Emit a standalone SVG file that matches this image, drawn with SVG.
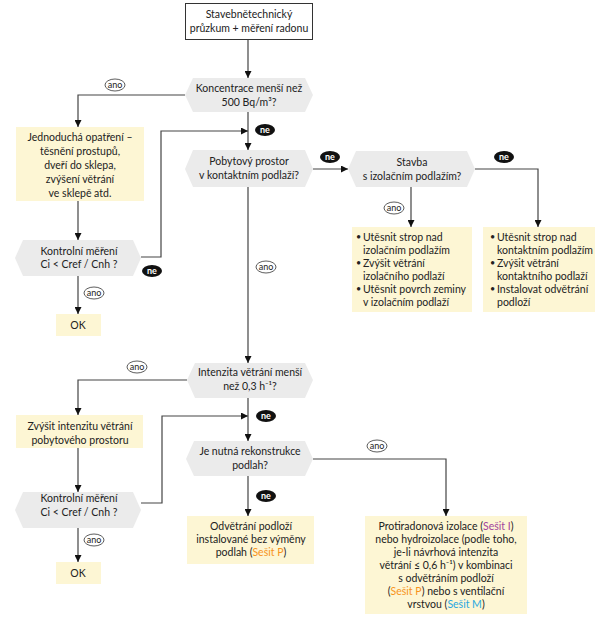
<svg xmlns="http://www.w3.org/2000/svg" width="600" height="625" viewBox="0 0 600 625">
<defs>
<marker id="ah" viewBox="0 0 10 10" refX="10" refY="5" markerWidth="7" markerHeight="7" markerUnits="userSpaceOnUse" orient="auto">
<path d="M0,0 L10,5 L0,10 z" fill="#111"/>
</marker>
<style>
text{font-family:Lato,"Liberation Sans",sans-serif;font-size:10.5px;fill:#222;}
.c{text-anchor:middle;}
.box{fill:#ffffff;stroke:#333;stroke-width:1;}
.yel{fill:#fdf6d4;}
.hex{fill:#ebebeb;}
.ln{fill:none;stroke:#444;stroke-width:1.2;marker-end:url(#ah);}
.ano{fill:#fff;stroke:#333;stroke-width:0.8;}
.anot{font-size:9px;text-anchor:middle;}
.ne{fill:#111;}
.net{font-size:9px;text-anchor:middle;fill:#fff;font-weight:bold;}
.bu{font-size:9px;}
.or{fill:#f7941d;}
.pu{fill:#a3449c;}
.bl{fill:#29a8e0;}
</style>
</defs>

<g id="connectors">
<path class="ln" d="M248,40 V78"/>
<path class="ln" d="M185,95 H78 V127"/>
<path class="ln" d="M248,112 V150"/>
<path class="ln" d="M141,257 H161 V131 H248"/>
<path class="ln" d="M78,201 V240"/>
<path class="ln" d="M78,276 V314"/>
<path class="ln" d="M313,169 H348"/>
<path class="ln" d="M475,169 H538 V227"/>
<path class="ln" d="M411,187 V227"/>
<path class="ln" d="M248,187 V363"/>
<path class="ln" d="M187,380 H78 V415"/>
<path class="ln" d="M78,448 V492"/>
<path class="ln" d="M141,503 H162 V416 H248"/>
<path class="ln" d="M248,398 V441"/>
<path class="ln" d="M248,476 V516"/>
<path class="ln" d="M313,459 H446 V516"/>
<path class="ln" d="M78,528 V562"/>
</g>

<g id="labels">
<ellipse class="ano" cx="115" cy="85" rx="10" ry="6"/><text class="anot" x="115" y="88">ano</text>
<ellipse class="ano" cx="394" cy="208" rx="10" ry="6"/><text class="anot" x="394" y="211">ano</text>
<ellipse class="ano" cx="94" cy="293" rx="10" ry="6"/><text class="anot" x="94" y="296">ano</text>
<ellipse class="ano" cx="266" cy="267" rx="10" ry="6"/><text class="anot" x="266" y="270">ano</text>
<ellipse class="ano" cx="137" cy="367" rx="10" ry="6"/><text class="anot" x="137" y="370">ano</text>
<ellipse class="ano" cx="377" cy="446" rx="10" ry="6"/><text class="anot" x="377" y="449">ano</text>
<ellipse class="ano" cx="94" cy="540" rx="10" ry="6"/><text class="anot" x="94" y="543">ano</text>
<ellipse class="ne" cx="265" cy="130" rx="10" ry="6"/><text class="net" x="265" y="133">ne</text>
<ellipse class="ne" cx="330" cy="157" rx="10" ry="6"/><text class="net" x="330" y="160">ne</text>
<ellipse class="ne" cx="504" cy="157" rx="10" ry="6"/><text class="net" x="504" y="160">ne</text>
<ellipse class="ne" cx="152" cy="271" rx="10" ry="6"/><text class="net" x="152" y="274">ne</text>
<ellipse class="ne" cx="266" cy="416" rx="10" ry="6"/><text class="net" x="266" y="419">ne</text>
<ellipse class="ne" cx="266" cy="496" rx="10" ry="6"/><text class="net" x="266" y="499">ne</text>
</g>

<g id="start">
<rect class="box" x="185.5" y="3.5" width="127" height="36"/>
<text class="c" x="249" y="18">Stavebnětechnický</text>
<text class="c" x="249" y="32">průzkum + měření radonu</text>
</g>

<g id="d-koncentrace">
<polygon class="hex" points="193,78 305,78 313,95 305,112 193,112 185,95"/>
<text class="c" x="249" y="92">Koncentrace menší než</text>
<text class="c" x="249" y="106">500 Bq/m³?</text>
</g>

<g id="b-jednoducha">
<rect class="yel" x="16" y="127" width="128" height="74"/>
<text class="c" x="80" y="141">Jednoduchá opatření –</text>
<text class="c" x="80" y="155">těsnění prostupů,</text>
<text class="c" x="80" y="169">dveří do sklepa,</text>
<text class="c" x="80" y="183">zvýšení větrání</text>
<text class="c" x="80" y="197">ve sklepě atd.</text>
</g>

<g id="d-pobytovy">
<polygon class="hex" points="193,150 305,150 313,169 305,187 193,187 185,169"/>
<text class="c" x="249" y="165">Pobytový prostor</text>
<text class="c" x="249" y="179">v kontaktním podlaží?</text>
</g>

<g id="d-stavba">
<polygon class="hex" points="356,151 467,151 475,169 467,187 356,187 348,169"/>
<text class="c" x="412" y="166">Stavba</text>
<text class="c" x="412" y="180">s izolačním podlažím?</text>
</g>

<g id="b-izolacni">
<rect class="yel" x="352" y="227" width="120" height="85"/>
<text class="bu" x="356" y="240">•</text><text x="363" y="241">Utěsnit strop nad</text>
<text x="363" y="254">izolačním podlažím</text>
<text class="bu" x="356" y="266">•</text><text x="363" y="267">Zvýšit větrání</text>
<text x="363" y="280">izolačního podlaží</text>
<text class="bu" x="356" y="292">•</text><text x="363" y="293">Utěsnit povrch zeminy</text>
<text x="363" y="306">v izolačním podlaží</text>
</g>

<g id="b-kontaktni">
<rect class="yel" x="483" y="227" width="112" height="85"/>
<text class="bu" x="490" y="240">•</text><text x="497" y="241">Utěsnit strop nad</text>
<text x="497" y="254">kontaktním podlažím</text>
<text class="bu" x="490" y="266">•</text><text x="497" y="267">Zvýšit větrání</text>
<text x="497" y="280">kontaktního podlaží</text>
<text class="bu" x="490" y="292">•</text><text x="497" y="293">Instalovat odvětrání</text>
<text x="497" y="306">podloží</text>
</g>

<g id="d-kontrolni1">
<polygon class="hex" points="23,240 133,240 141,258 133,276 23,276 15,258"/>
<text class="c" x="79" y="255">Kontrolní měření</text>
<text class="c" x="79" y="268">Ci &lt; Cref / Cnh ?</text>
</g>

<g id="b-ok1">
<rect class="yel" x="56" y="314" width="45" height="22"/>
<text class="c" x="78" y="329">OK</text>
</g>

<g id="d-intenzita">
<polygon class="hex" points="195,363 305,363 313,380 305,398 195,398 187,380"/>
<text class="c" x="250" y="376">Intenzita větrání menší</text>
<text class="c" x="250" y="390">než 0,3 h⁻¹?</text>
</g>

<g id="b-zvysit">
<rect class="yel" x="16" y="415" width="127" height="33"/>
<text class="c" x="80" y="430">Zvýšit intenzitu větrání</text>
<text class="c" x="80" y="444">pobytového prostoru</text>
</g>

<g id="d-kontrolni2">
<polygon class="hex" points="23,492 133,492 141,510 133,528 23,528 15,510"/>
<text class="c" x="79" y="502">Kontrolní měření</text>
<text class="c" x="79" y="516">Ci &lt; Cref / Cnh ?</text>
</g>

<g id="b-ok2">
<rect class="yel" x="56" y="562" width="45" height="22"/>
<text class="c" x="78" y="577">OK</text>
</g>

<g id="d-rekonstrukce">
<polygon class="hex" points="194,441 305,441 313,459 305,476 194,476 186,459"/>
<text class="c" x="250" y="455">Je nutná rekonstrukce</text>
<text class="c" x="250" y="469">podlah?</text>
</g>

<g id="b-odvetrani">
<rect class="yel" x="187" y="516" width="127" height="48"/>
<text class="c" x="251" y="530">Odvětrání podloží</text>
<text class="c" x="251" y="543">instalované bez výměny</text>
<text class="c" x="251" y="556">podlah (<tspan class="or">Sešit P</tspan>)</text>
</g>

<g id="b-protiradonova">
<rect class="yel" x="365" y="516" width="162" height="98"/>
<text class="c" x="446" y="530">Protiradonová izolace (<tspan class="pu">Sešit I</tspan>)</text>
<text class="c" x="446" y="543">nebo hydroizolace (podle toho,</text>
<text class="c" x="446" y="556">je-li návrhová intenzita</text>
<text class="c" x="446" y="569">větrání ≤ 0,6 h⁻¹) v kombinaci</text>
<text class="c" x="446" y="582">s odvětráním podloží</text>
<text class="c" x="446" y="595">(<tspan class="or">Sešit P</tspan>) nebo s ventilační</text>
<text class="c" x="446" y="608">vrstvou (<tspan class="bl">Sešit M</tspan>)</text>
</g>
</svg>
